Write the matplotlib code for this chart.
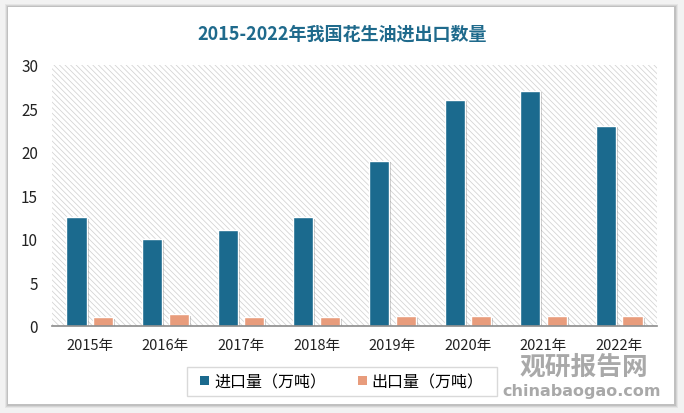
import matplotlib
matplotlib.use("Agg")
import matplotlib.pyplot as plt
import matplotlib.patches as mpatches
import matplotlib.patheffects as pe
import numpy as np

plt.rcParams['font.family'] = ['Noto Sans CJK SC', 'DejaVu Sans']
plt.rcParams['hatch.linewidth'] = 0.55
plt.rcParams['hatch.color'] = '#D0D0D0'

years = ['2015年', '2016年', '2017年', '2018年', '2019年', '2020年', '2021年', '2022年']
imports = [12.5, 10, 11, 12.5, 19, 26, 27, 23]
exports = [1.0, 1.35, 1.0, 1.0, 1.1, 1.1, 1.2, 1.1]
series_names = ['进口量（万吨）', '出口量（万吨）']
title = '2015-2022年我国花生油进出口数量'
yticks = [0, 5, 10, 15, 20, 25, 30]

c_imp = '#1B6A8E'
c_exp = '#E89C7C'

fig = plt.figure(figsize=(6.84, 4.14), dpi=100)
fig.patch.set_facecolor('#F2F2F2')

# panel shadow and panel
W, H = 684, 414
for i, a in enumerate([0.05, 0.07, 0.09]):
    d = 3 - i
    fig.patches.append(mpatches.Rectangle(((8 - d) / W, 1 - (406 + d) / H), (667 + 2 * d) / W, (398 + 2 * d) / H,
                                          transform=fig.transFigure, facecolor='black', alpha=a,
                                          edgecolor='none', zorder=-3))
fig.patches.append(mpatches.Rectangle((8 / W, 1 - 405 / H), 666 / W, 397 / H,
                                      transform=fig.transFigure, facecolor='white',
                                      edgecolor='none', zorder=-2))
# legend box
fig.patches.append(mpatches.Rectangle((187 / W, 1 - 397 / H), 310 / W, 29 / H,
                                      transform=fig.transFigure, facecolor='white',
                                      edgecolor='#D9D9D9', linewidth=1.0, zorder=-1))

ax = fig.add_axes([52 / W, 1 - 327 / H, (657 - 52) / W, (327 - 66) / H])
ax.set_facecolor('none')
ax.add_patch(mpatches.Rectangle((0, 0), 1, 1, transform=ax.transAxes, facecolor='white',
                                hatch='\\\\\\\\\\\\', edgecolor='#D2D2D2', linewidth=0, zorder=0))

x = np.arange(len(years))
bw = 0.265
off = 0.176
shadow = [pe.SimplePatchShadow(offset=(1.5, -1.0), shadow_rgbFace='#000000', alpha=0.22), pe.Normal()]
b1 = ax.bar(x - off, imports, bw, color=c_imp, edgecolor='white', linewidth=1.0, zorder=3,
            label=series_names[0])
b2 = ax.bar(x + off, exports, bw, color=c_exp, edgecolor='white', linewidth=1.0, zorder=3,
            label=series_names[1])
for b in list(b1) + list(b2):
    b.set_path_effects(shadow)

ax.set_xlim(-0.5, len(years) - 0.5)
ax.set_ylim(0, 30)
ax.set_yticks(yticks)
ax.set_xticks(x)
ax.set_xticklabels(years, fontsize=10.5, color='#222222')
ax.tick_params(axis='y', length=0, labelsize=11, colors='#222222', pad=10)
ax.tick_params(axis='x', length=0, pad=9)
for s in ['top', 'right', 'left']:
    ax.spines[s].set_visible(False)
ax.spines['bottom'].set_color('#8C8C8C')
ax.spines['bottom'].set_linewidth(1.2)
ax.spines['bottom'].set_zorder(4)

fig.text(0.5, 1 - 34 / H, title, ha='center', va='center', fontsize=13, fontweight='bold',
         color='#1F6A8C')

leg = fig.legend(handles=[b1, b2], labels=series_names, loc='center', bbox_to_anchor=(342 / W, 1 - 382.5 / H),
                 ncol=2, frameon=False, fontsize=11.5, handlelength=0.55, handleheight=0.55,
                 columnspacing=2.0, handletextpad=0.3, borderpad=0.3)
for h in leg.legend_handles:
    h.set_path_effects([])
    h.set_edgecolor('none')

# watermark
fig.text(584 / W, 1 - 367 / H, '观研报告网', ha='center', va='center', fontsize=18.5, fontweight='bold',
         color='#9A9A9A', alpha=0.85)
fig.text(582 / W, 1 - 392 / H, 'chinabaogao.com', ha='center', va='center', fontsize=11.5, fontweight='bold',
         color='#9A9A9A', alpha=0.85, family=['DejaVu Sans'])

fig.savefig('out.png', dpi=100)
